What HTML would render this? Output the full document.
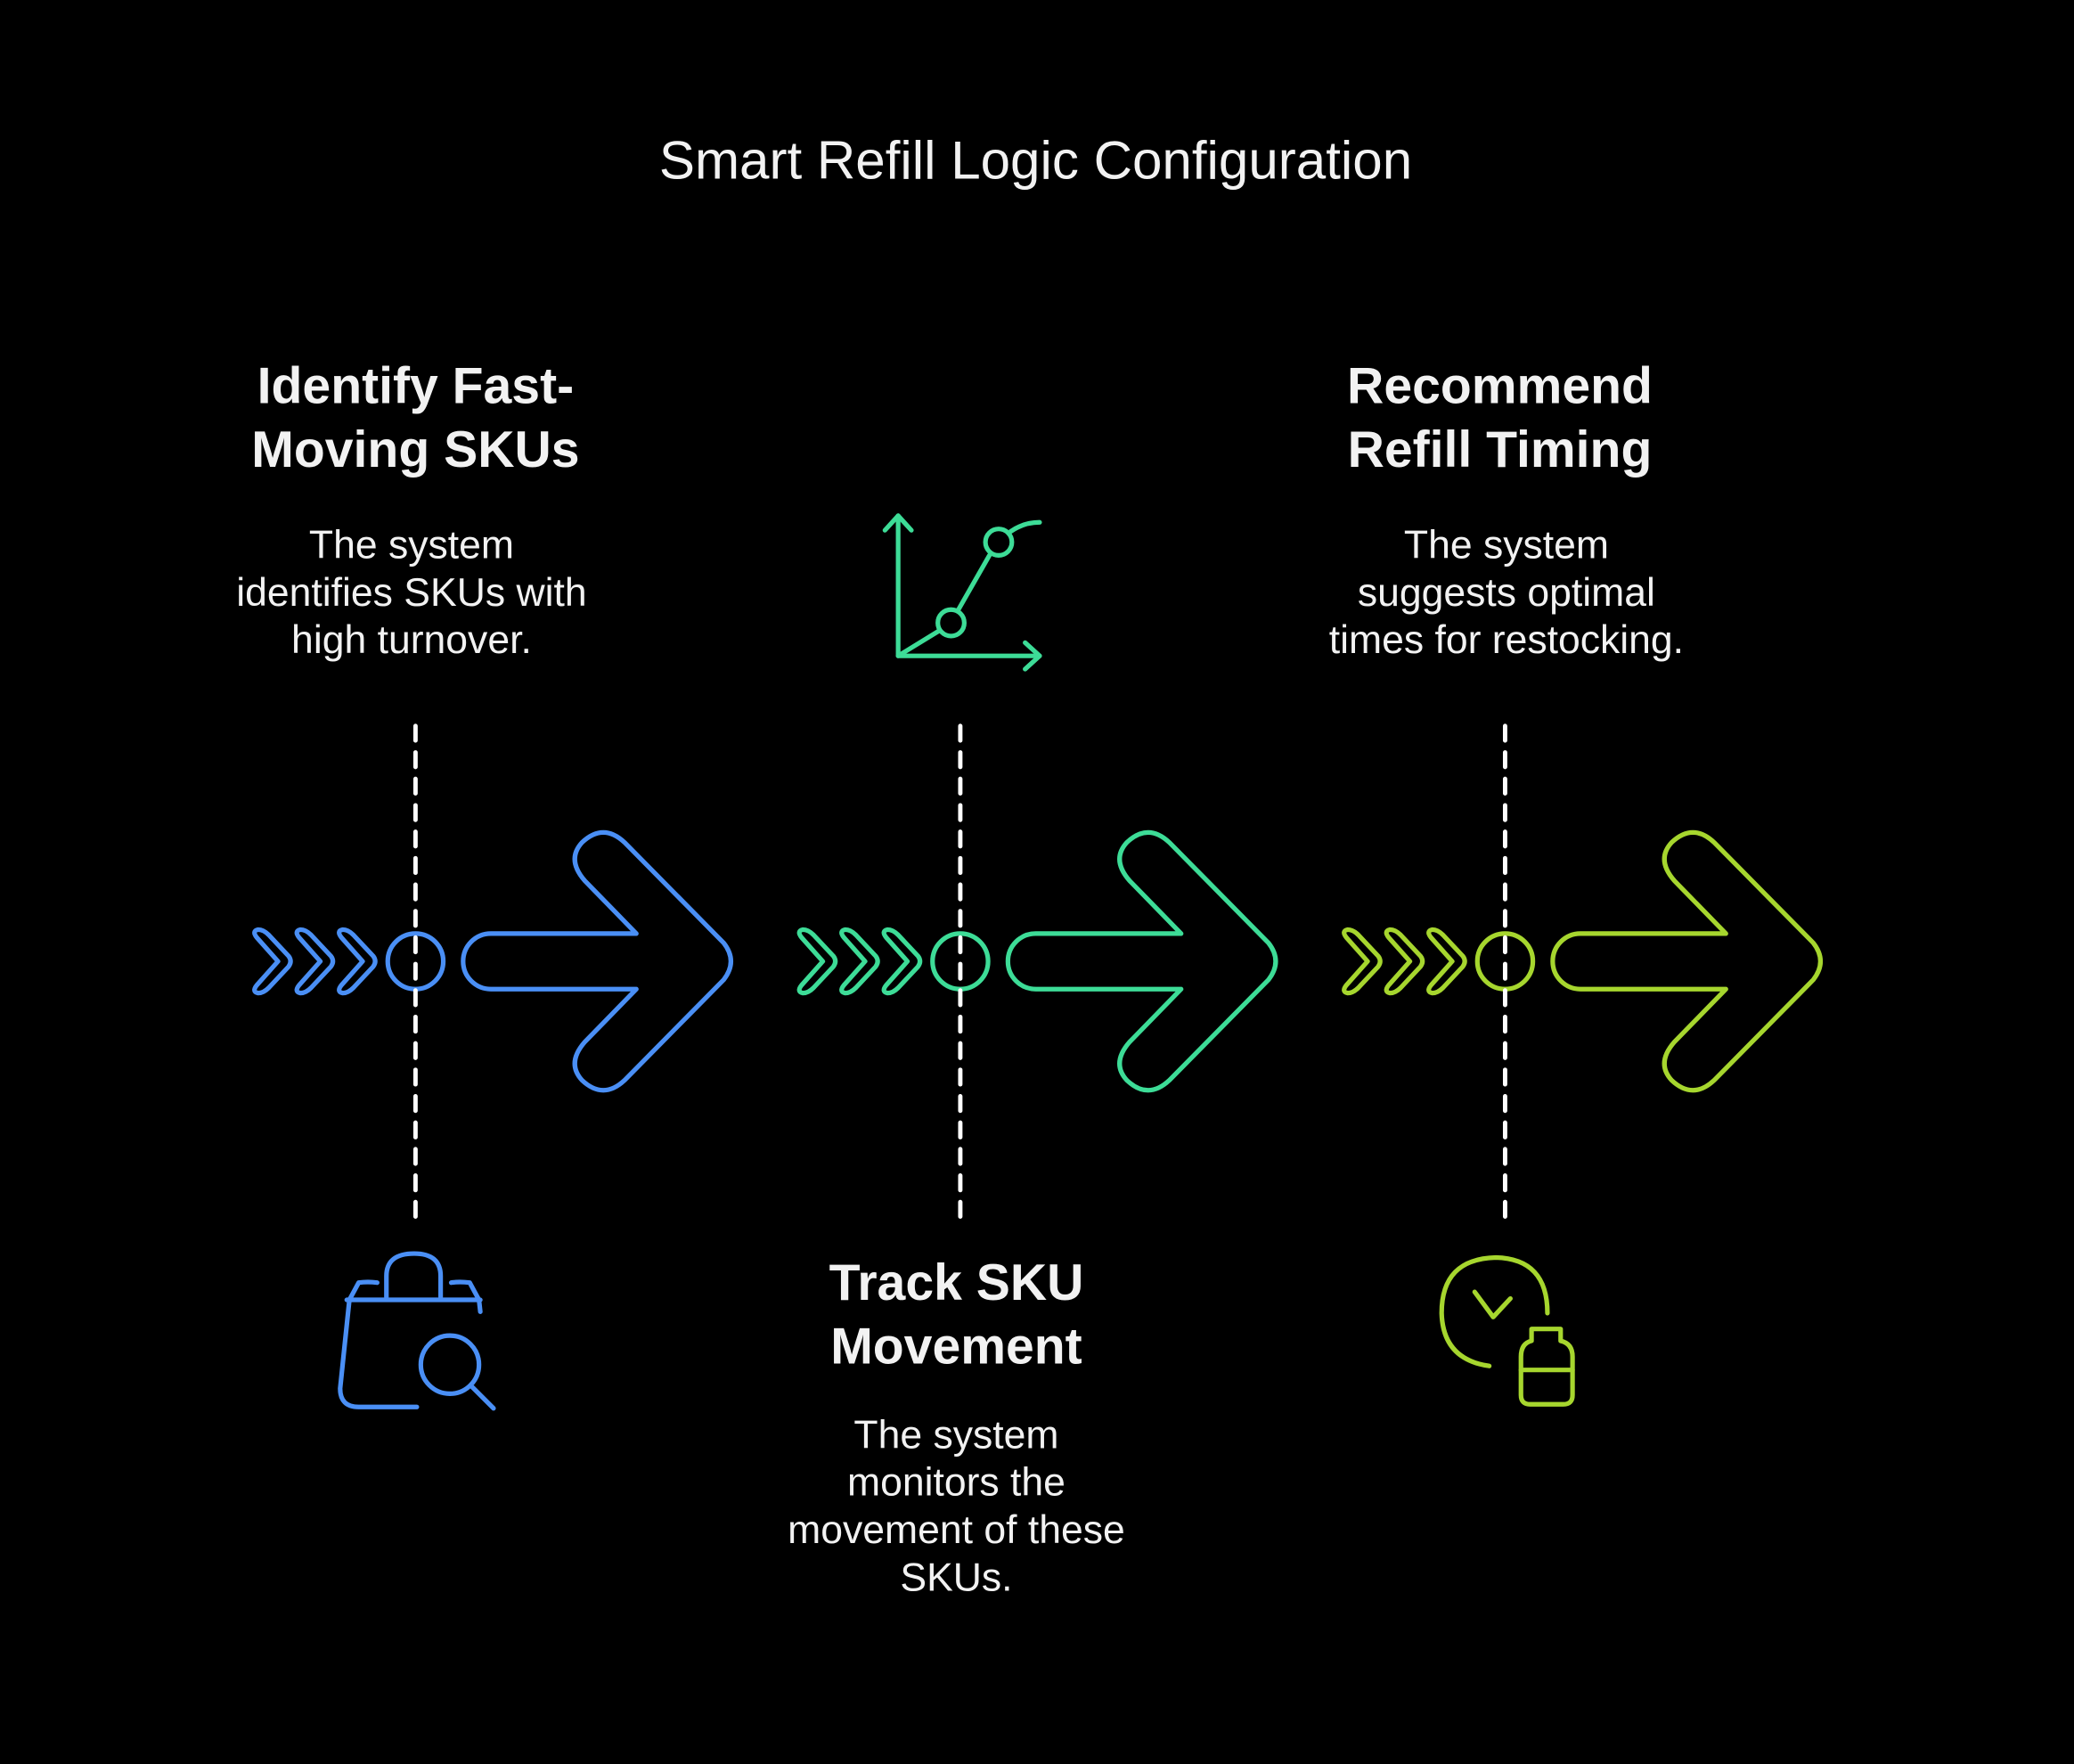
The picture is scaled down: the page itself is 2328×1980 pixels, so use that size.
<!DOCTYPE html>
<html><head><meta charset="utf-8">
<style>
html,body{margin:0;padding:0;background:#000;}
svg{display:block;}
text{font-family:"Liberation Sans",sans-serif;fill:#f2f2f2;text-anchor:middle;}
.h{font-weight:bold;font-size:38.5px;}
.b{font-size:30px;}
</style></head>
<body>
<svg width="2328" height="1980" viewBox="0 0 1568 1334" xmlns="http://www.w3.org/2000/svg">
<rect width="1568" height="1334" fill="#000"/>
<text x="783" y="135" style="font-size:40.5px">Smart Refill Logic Configuration</text>

<defs>
<g id="arr" fill="none" stroke-width="3.5" stroke-linejoin="round" stroke-linecap="round">
  <path d="M194,709 L210,727 L194,745 Q190,750 195,751 Q199,751 203,747 L218,731 Q221,727 218,723 L203,707 Q199,703 195,703 Q190,704 194,709 Z"/>
  <path d="M226,709 L242,727 L226,745 Q222,750 227,751 Q231,751 235,747 L250,731 Q253,727 250,723 L235,707 Q231,703 227,703 Q222,704 226,709 Z"/>
  <path d="M258,709 L274,727 L258,745 Q254,750 259,751 Q263,751 267,747 L282,731 Q285,727 282,723 L267,707 Q263,703 259,703 Q254,704 258,709 Z"/>
  <circle cx="314" cy="727" r="21"/>
  <path d="M371,706 L481,706 L442,666 Q428,650 440,637 Q456,622 472,637 L547,713 Q558,727 547,741 L472,817 Q456,832 440,817 Q428,804 442,788 L481,748 L371,748 A21,21 0 0 1 371,706 Z"/>
</g>
</defs>

<g stroke="#4a8ff5"><use href="#arr"/></g>
<g stroke="#3ddc97" transform="translate(412,0)"><use href="#arr"/></g>
<g stroke="#a6d62e" transform="translate(824,0)"><use href="#arr"/></g>

<g stroke="#ffffff" stroke-width="3.3" stroke-dasharray="11 9" stroke-linecap="round">
  <line x1="314" y1="549" x2="314" y2="920"/>
  <line x1="726" y1="549" x2="726" y2="920"/>
  <line x1="1138" y1="549" x2="1138" y2="920"/>
</g>

<text class="h" x="314" y="305">Identify Fast-</text>
<text class="h" x="314" y="353">Moving SKUs</text>
<text class="b" x="311" y="422">The system</text>
<text class="b" x="311" y="458">identifies SKUs with</text>
<text class="b" x="311" y="494">high turnover.</text>

<text class="h" x="1134" y="305">Recommend</text>
<text class="h" x="1134" y="353">Refill Timing</text>
<text class="b" x="1139" y="422">The system</text>
<text class="b" x="1139" y="458">suggests optimal</text>
<text class="b" x="1139" y="494">times for restocking.</text>

<text class="h" x="723" y="983">Track SKU</text>
<text class="h" x="723" y="1031">Movement</text>
<text class="b" x="723" y="1095">The system</text>
<text class="b" x="723" y="1131">monitors the</text>
<text class="b" x="723" y="1167">movement of these</text>
<text class="b" x="723" y="1203">SKUs.</text>

<g fill="none" stroke="#3ddc97" stroke-width="3.5" stroke-linecap="round" stroke-linejoin="round">
  <path d="M679,390 L679,496 L786,496"/>
  <path d="M669,401 L679,390 L689,401"/>
  <path d="M775,486 L786,496 L775,506"/>
  <path d="M679,496 L710,477"/>
  <circle cx="719" cy="471" r="10"/>
  <path d="M724,462 L748,420"/>
  <circle cx="755" cy="410" r="10"/>
  <path d="M764,402 Q774,395 786,395"/>
</g>

<g fill="none" stroke="#4a8ff5" stroke-width="3.5" stroke-linecap="round" stroke-linejoin="round">
  <path d="M292,981 L292,965 Q292,948 313,948 Q333,948 333,965 L333,981"/>
  <path d="M262,983 L363,983"/>
  <path d="M285,970 Q278,969 271,970 L264,983 L257,1050 Q257,1064 271,1064 L315,1064"/>
  <path d="M341,970 Q347,969 355,970 L362,983 L363,992"/>
  <circle cx="340" cy="1032" r="22"/>
  <path d="M357,1049 L373,1065"/>
</g>

<g fill="none" stroke="#a6d62e" stroke-width="3.5" stroke-linecap="round" stroke-linejoin="round">
  <path d="M1170,993 Q1170,952 1131,951 Q1090,952 1090,993 Q1091,1028 1126,1033"/>
  <path d="M1115,977 L1129,996 L1142,982"/>
  <path d="M1158,1005 L1180,1005 L1180,1014 Q1189,1016 1189,1026 L1189,1055 Q1189,1062 1182,1062 L1157,1062 Q1150,1062 1150,1055 L1150,1026 Q1150,1016 1158,1014 Z"/>
  <path d="M1150,1036 L1189,1036"/>
</g>
</svg>
</body></html>
